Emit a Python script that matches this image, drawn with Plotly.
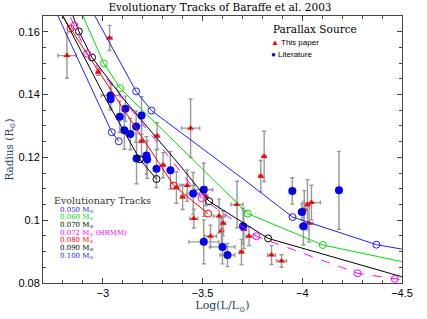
import plotly.graph_objects as go

# ---------------- data ----------------
# Parallax source: this paper (red triangles)
paper_logL = [-2.820, -3.034, -2.976, -3.440, -3.272, -3.194, -3.302, -3.369, -3.423, -3.400,
              -3.516, -3.456, -3.583, -3.603, -3.595, -3.540, -3.673, -3.695, -3.707, -3.733,
              -3.809, -3.792, -3.846, -3.896, -4.046, -4.026, -4.010, -4.034]
paper_R = [0.1524, 0.1580, 0.1471, 0.1293, 0.1268, 0.1251, 0.1175, 0.1104, 0.1110, 0.1074,
           0.1076, 0.1005, 0.1013, 0.0990, 0.0966, 0.0949, 0.1050, 0.0899, 0.0970, 0.0949,
           0.1203, 0.1140, 0.0889, 0.0870, 0.1056, 0.1049, 0.1034, 0.0990]
paper_logL_err = [0.046, 0.012, 0.008, 0.046, 0.010, 0.010, 0.010, 0.010, 0.037, 0.010,
                  0.010, 0.020, 0.030, 0.010, 0.010, 0.030, 0.030, 0.010, 0.010, 0.015,
                  0.010, 0.010, 0.020, 0.025, 0.045, 0.010, 0.010, 0.020]
paper_R_err = [0.0072, 0.0040, 0.0010, 0.0093, 0.0042, 0.0050, 0.0040, 0.0050, 0.0050, 0.0040,
               0.0030, 0.0030, 0.0054, 0.0040, 0.0040, 0.0035, 0.0074, 0.0040, 0.0060, 0.0030,
               0.0080, 0.0050, 0.0030, 0.0020, 0.0055, 0.0080, 0.0060, 0.0060]

# Parallax source: literature (blue circles)
lit_logL = [-3.039, -3.039, -3.113, -3.085, -3.194, -3.167, -3.108, -3.138, -3.219, -3.169,
            -3.222, -3.269, -3.339, -3.506, -3.453, -3.703, -3.506, -3.600, -3.625, -3.950,
            -4.184, -3.998, -4.006]
lit_R = [0.1397, 0.1385, 0.1355, 0.1329, 0.1333, 0.1298, 0.1286, 0.1274, 0.1206, 0.1196,
         0.1193, 0.1164, 0.1159, 0.1097, 0.1085, 0.0981, 0.0931, 0.0915, 0.0889, 0.1093,
         0.1095, 0.1026, 0.0981]
lit_logL_err = [0.047, 0.010, 0.010, 0.010, 0.010, 0.010, 0.010, 0.010, 0.010, 0.010,
                0.010, 0.010, 0.010, 0.045, 0.033, 0.010, 0.075, 0.062, 0.037, 0.010,
                0.010, 0.017, 0.020]
lit_R_err = [0.0040, 0.0035, 0.0040, 0.0050, 0.0060, 0.0050, 0.0060, 0.0050, 0.0060, 0.0080,
             0.0060, 0.0060, 0.0060, 0.0085, 0.0067, 0.0057, 0.0070, 0.0054, 0.0037, 0.0042,
             0.0124, 0.0025, 0.0060]

# Evolutionary tracks (Baraffe et al. 2003): line path and age markers
track_050_x = [-2.919, -3.167, -3.244, -3.712, -3.951, -4.372, -4.499]
track_050_y = [0.1698, 0.1410, 0.1349, 0.1127, 0.1010, 0.0922, 0.0908]
mark_050_x = [-3.167, -3.244, -3.951, -4.372]
mark_050_y = [0.1410, 0.1349, 0.1010, 0.0922]

track_060_x = [-2.867, -3.005, -3.087, -3.727, -4.103, -4.499]
track_060_y = [0.1698, 0.1499, 0.1420, 0.1021, 0.0921, 0.0868]
mark_060_x = [-3.005, -3.087, -3.727, -4.103]
mark_060_y = [0.1499, 0.1420, 0.1021, 0.0921]

track_070_x = [-2.821, -2.880, -2.946, -3.110, -3.386, -3.533, -3.829, -4.499]
track_070_y = [0.1698, 0.1601, 0.1518, 0.1381, 0.1175, 0.1060, 0.0942, 0.0820]
mark_070_x = [-2.880, -2.946, -3.533, -3.829]
mark_070_y = [0.1601, 0.1518, 0.1060, 0.0942]

track_072_x = [-2.801, -2.858, -2.921, -3.495, -3.770, -4.277, -4.464, -4.500]
track_072_y = [0.1698, 0.1619, 0.1530, 0.1070, 0.0949, 0.0831, 0.0813, 0.0810]
mark_072_x = [-2.858, -2.921, -3.495, -3.770, -4.277, -4.464]
mark_072_y = [0.1619, 0.1530, 0.1070, 0.0949, 0.0831, 0.0813]

track_080_x = [-2.747, -2.838, -3.356, -3.528]
track_080_y = [0.1698, 0.1610, 0.1110, 0.1021]
mark_080_x = [-2.838, -3.356, -3.528]
mark_080_y = [0.1610, 0.1110, 0.1021]

track_090_x = [-2.761, -3.019, -3.185, -3.269]
track_090_y = [0.1698, 0.1381, 0.1194, 0.1131]
mark_090_x = [-3.185, -3.269]
mark_090_y = [0.1194, 0.1131]

track_100_x = [-2.740, -3.045, -3.080]
track_100_y = [0.1698, 0.1280, 0.1251]
mark_100_x = [-3.045, -3.080]
mark_100_y = [0.1280, 0.1251]

track_labels = ["0.050", "0.060", "0.070", "0.072", "0.080", "0.090", "0.100"]
track_colors = ["#2020ff", "#00dd00", "#000000", "#ff00ff", "#ff0000", "#000000", "#2020ff"]

x_tick_vals = [-3, -3.5, -4, -4.5]
y_tick_vals = [0.08, 0.1, 0.12, 0.14, 0.16]
y_tick_text = ["0.08", "0.1", "0.12", "0.14", "0.16"]

# ---------------- figure ----------------
L, R, T, B = 43, 25, 16, 36
W, H = 427, 319
PW, PH = W - L - R, H - T - B


def px(x):
    return (x - L) / PW


def py(y):
    return (H - B - y) / PH


fig = go.Figure()

err_style = dict(color="#999999", thickness=1.4, width=2)

fig.add_trace(go.Scatter(
    x=paper_logL, y=paper_R, mode="markers",
    marker=dict(symbol="triangle-up", size=6, color="#ff0000"),
    error_x=dict(type="data", array=paper_logL_err, **err_style),
    error_y=dict(type="data", array=paper_R_err, **err_style),
    showlegend=False))

fig.add_trace(go.Scatter(
    x=lit_logL, y=lit_R, mode="markers",
    marker=dict(symbol="circle", size=8, color="#0000ff"),
    error_x=dict(type="data", array=lit_logL_err, **err_style),
    error_y=dict(type="data", array=lit_R_err, **err_style),
    showlegend=False))

tracks = [
    (track_050_x, track_050_y, mark_050_x, mark_050_y, "solid"),
    (track_060_x, track_060_y, mark_060_x, mark_060_y, "solid"),
    (track_070_x, track_070_y, mark_070_x, mark_070_y, "solid"),
    (track_072_x, track_072_y, mark_072_x, mark_072_y, "dash"),
    (track_080_x, track_080_y, mark_080_x, mark_080_y, "solid"),
    (track_090_x, track_090_y, mark_090_x, mark_090_y, "solid"),
    (track_100_x, track_100_y, mark_100_x, mark_100_y, "solid"),
]
for (tx, ty, mx, my, dash), col in zip(tracks, track_colors):
    fig.add_trace(go.Scatter(x=tx, y=ty, mode="lines",
                             line=dict(color=col, width=1, dash=dash),
                             showlegend=False, hoverinfo="skip"))
    fig.add_trace(go.Scatter(x=mx, y=my, mode="markers",
                             marker=dict(symbol="circle-open", size=7, color=col,
                                         line=dict(width=1, color=col)),
                             showlegend=False))

serif = "DejaVu Serif"
sans = "Liberation Sans"

annotations = []
# Parallax source legend
annotations.append(dict(xref="paper", yref="paper", x=px(315), y=py(29),
                        text="Parallax Source", showarrow=False,
                        font=dict(family=serif, size=10.5, color="black"),
                        xanchor="center", yanchor="middle"))
annotations.append(dict(xref="paper", yref="paper", x=px(269), y=py(42),
                        text="<span style='color:#ff0000'>▲</span> This paper", showarrow=False,
                        font=dict(family=sans, size=8, color="black"),
                        xanchor="left", yanchor="middle"))
annotations.append(dict(xref="paper", yref="paper", x=px(269), y=py(54),
                        text="<span style='color:#0000ff'>●</span> Literature", showarrow=False,
                        font=dict(family=sans, size=8, color="black"),
                        xanchor="left", yanchor="middle"))
# Tracks legend
annotations.append(dict(xref="paper", yref="paper", x=px(52), y=py(200),
                        text="Evolutionary Tracks", showarrow=False,
                        font=dict(family=serif, size=9.5, color="#333333"),
                        xanchor="left", yanchor="middle"))
for i, (lab, col) in enumerate(zip(track_labels, track_colors)):
    extra = " (HBMM)" if lab == "0.072" else ""
    ypix = 209.5 + i * 7.7
    annotations.append(dict(xref="paper", yref="paper", x=px(59), y=py(ypix),
                            text=f"{lab} M<sub>⊙</sub>{extra}", showarrow=False,
                            font=dict(family=serif, size=7, color=col),
                            xanchor="left", yanchor="middle", borderpad=0))

fig.update_layout(
    width=W, height=H,
    margin=dict(l=L, r=R, t=T, b=B, autoexpand=False),
    paper_bgcolor="white", plot_bgcolor="white",
    title=dict(text="Evolutionary Tracks of Baraffe et al. 2003", x=px(220), xanchor="center",
               xref="paper", y=1 - 7 / H, yref="container", yanchor="middle",
               font=dict(family=serif, size=10.5, color="black")),
    annotations=annotations,
    showlegend=False,
)
axis_common = dict(showline=True, linecolor="#444444", linewidth=1, mirror="allticks",
                   ticks="inside", ticklen=5, tickcolor="#444444", showgrid=False, zeroline=False,
                   automargin=False,
                   tickfont=dict(family=sans, size=11, color="black"))
fig.update_xaxes(range=[-2.7, -4.5], tickvals=x_tick_vals,
                 minor=dict(dtick=0.1, ticks="inside", ticklen=3, tickcolor="#444444"),
                 title=dict(text="Log(L/L<sub>⊙</sub>)", font=dict(family=serif, size=11), standoff=2),
                 **axis_common)
fig.update_yaxes(range=[0.08, 0.165], tickvals=y_tick_vals, ticktext=y_tick_text,
                 minor=dict(dtick=0.005, ticks="inside", ticklen=3, tickcolor="#444444"),
                 title=dict(text="Radius (R<sub>⊙</sub>)", font=dict(family=serif, size=10.5), standoff=2),
                 **axis_common)

fig.write_html("out.html", config={"displayModeBar": False},
               post_script="document.body.style.margin='0';document.body.style.overflow='hidden';")
